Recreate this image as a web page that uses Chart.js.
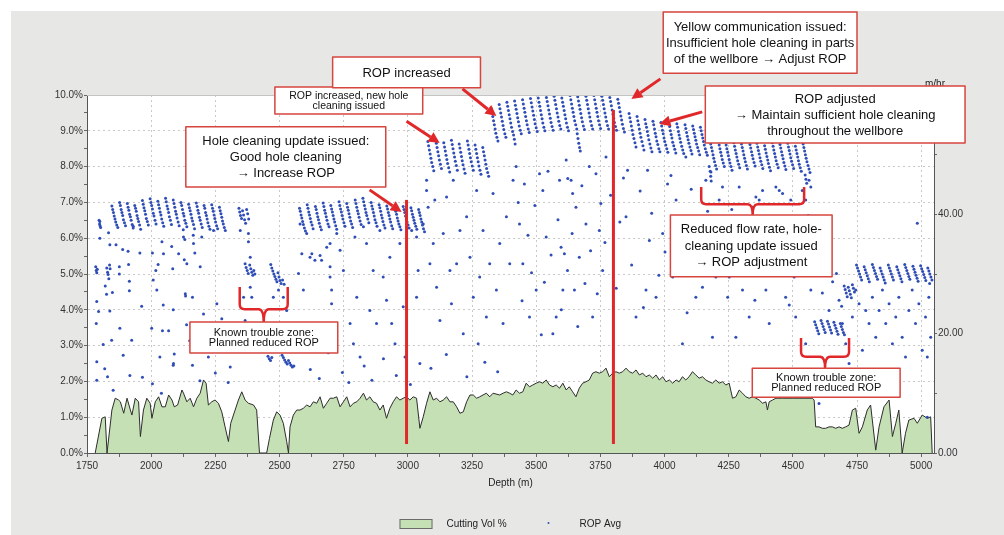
<!DOCTYPE html>
<html>
<head>
<meta charset="utf-8">
<script src="https://cdn.jsdelivr.net/npm/chart.js@4.4.1/dist/chart.umd.min.js"></script>
<style>
html,body{margin:0;padding:0;background:#fff;}
canvas{display:block;}
</style>
</head>
<body>
<canvas id="c" width="1004" height="535"></canvas>
<script>
// ---------------- DATA ----------------
const depthTicks = [2000, 2250, 2500, 2750, 3000, 3250, 3500, 3750, 4000, 4250, 4500, 4750, 5000];

// Cutting Vol % profile: [depth m, %]
const cuttingVol = [
[1782,0],[1808,0.97],[1821,1.01],[1828,0],[1847,1.2],[1860,1.53],[1873,1.48],[1880,1.43],[1893,1.11],[1906,1.53],
[1919,1.2],[1925,1.06],[1938,1.53],[1951,1.43],[1958,0.46],[1970,1.2],[1983,1.53],[1996,1.39],[2003,0.97],[2016,1.43],
[2029,1.57],[2042,1.29],[2055,1.29],[2068,1.62],[2081,1.48],[2090,1.29],[2103,1.34],[2120,1.76],[2126,1.67],[2139,1.43],
[2152,1.53],[2165,1.29],[2178,1.53],[2191,1.67],[2204,2.04],[2214,1.95],[2223,1.34],[2236,1.43],[2249,1.48],[2262,1.39],
[2275,1.15],[2288,0.73],[2301,0.32],[2310,0.83],[2327,1.2],[2340,1.48],[2353,1.71],[2366,1.48],[2379,1.39],[2399,1.34],
[2411,1.2],[2422,0],[2450,0],[2461,0.41],[2476,0.92],[2489,1.15],[2502,1.06],[2515,0.83],[2528,0.32],[2535,0],
[2541,0.73],[2554,1.06],[2567,1.2],[2580,1.2],[2593,1.25],[2606,1.34],[2619,1.29],[2632,1.43],[2645,1.39],[2658,1.57],
[2671,1.25],[2684,1.39],[2697,1.53],[2710,1.53],[2723,1.57],[2736,1.29],[2749,1.43],[2762,1.57],[2775,1.29],[2788,1.39],
[2801,1.43],[2814,1.53],[2827,1.67],[2839,1.48],[2852,1.57],[2865,1.43],[2878,1.39],[2891,1.2],[2904,1.34],[2917,0.97],
[2930,1.25],[2943,1.43],[2956,1.57],[2969,1.48],[2982,1.53],[2995,1.57],[3008,1.48],[3021,1.57],[3034,1.53],[3047,0.69],
[3060,1.01],[3073,1.39],[3086,1.71],[3099,1.48],[3112,1.53],[3125,1.43],[3138,1.48],[3151,1.57],[3164,1.43],[3177,1.43],
[3190,1.29],[3203,1.11],[3216,1.15],[3229,1.43],[3242,1.62],[3255,1.62],[3268,1.53],[3280,1.57],[3293,1.62],[3306,1.67],
[3319,1.57],[3332,1.67],[3358,1.62],[3371,1.67],[3384,1.71],[3397,1.67],[3409,1.62],[3422,1.76],[3435,1.67],[3448,1.71],
[3461,1.95],[3474,1.85],[3487,1.9],[3500,1.95],[3513,1.99],[3526,1.95],[3539,2.04],[3552,1.9],[3565,1.85],[3578,1.9],
[3591,1.81],[3604,1.95],[3617,1.76],[3629,1.85],[3642,1.71],[3655,1.57],[3668,1.81],[3681,1.95],[3694,1.99],[3707,2.04],
[3720,2.23],[3733,2.27],[3746,2.23],[3759,2.27],[3772,2.37],[3785,2.13],[3798,2.23],[3811,2.27],[3824,2.23],[3837,2.27],
[3850,2.37],[3863,2.27],[3876,2.23],[3889,2.32],[3902,2.18],[3915,2.23],[3928,2.13],[3941,2.18],[3954,2.09],[3967,2.18],
[3980,2.04],[3993,2.13],[4006,1.99],[4019,2.04],[4032,1.95],[4045,2.04],[4057,1.99],[4070,2.13],[4083,2.04],[4096,2.13],
[4109,2.27],[4122,2.18],[4135,2.09],[4148,2.13],[4161,2.04],[4174,1.99],[4187,1.95],[4200,2.04],[4213,1.95],[4226,1.99],
[4239,1.9],[4252,1.95],[4265,1.53],[4278,1.57],[4291,1.76],[4304,1.67],[4317,1.57],[4330,1.53],[4343,1.57],[4356,1.53],
[4369,1.48],[4382,1.39],[4395,1.43],[4401,1.2],[4408,1.43],[4421,1.48],[4434,1.53],[4460,1.53],[4500,1.53],[4540,1.53],
[4576,1.53],[4583,1.48],[4589,0.73],[4602,0.73],[4615,0.69],[4628,0.69],[4641,0.73],[4654,0.73],[4667,0.69],[4680,0.73],
[4693,0.69],[4706,0.73],[4719,0.78],[4732,1.2],[4745,1.25],[4758,0.55],[4771,0.73],[4790,1.2],[4803,1.34],[4823,0.08],
[4836,0.73],[4855,1.29],[4875,1.48],[4888,0.46],[4901,0.83],[4913,1.2],[4926,0],[4939,0.55],[4952,0.92],[4972,0.97],
[4985,0.83],[5004,1.06],[5024,0.97],[5037,1.01],[5043,0]
];

// ROP Avg points: [depth m, m/hr]
const ropEarly = [
[1784,31.2],[1786,30.6],[1788,30.2],[1790,30.8],[1797,39.0],[1799,38.4],[1801,38.1],[1803,37.8],[1800,38.8],
[1827,31.0],[1830,30.3],[1832,29.9],[1835,29.2],[1838,31.5],[1840,30.9]
];
const ropBand1 = [
[1847,41.4],[1850,40.8],[1853,40.3],[1856,39.7],[1859,39.2],[1862,38.7],[1866,38.2],[1870,37.8],
[1877,42.0],[1880,41.5],[1883,40.8],[1886,40.3],[1889,39.8],[1892,39.1],[1896,38.6],[1900,38.1],
[1907,41.8],[1910,41.2],[1913,40.7],[1916,40.0],[1919,39.6],[1922,39.0],[1926,38.3],[1930,37.7],
[1936,41.5],[1939,41.0],[1942,40.5],[1945,39.8],[1948,39.3],[1951,38.8],[1955,38.2],[1959,37.5],
[1966,42.3],[1969,41.7],[1972,41.1],[1975,40.6],[1978,40.0],[1981,39.3],[1985,38.8],[1989,38.2],
[1996,42.6],[1999,42.0],[2002,41.5],[2005,40.9],[2008,40.2],[2011,39.7],[2015,39.0],[2019,38.4],
[2026,42.2],[2029,41.6],[2032,41.0],[2035,40.4],[2038,39.9],[2041,39.2],[2045,38.6],[2049,38.0],
[2056,42.7],[2059,42.1],[2062,41.4],[2065,40.9],[2068,40.3],[2071,39.6],[2075,39.0],[2079,38.3],
[2086,42.4],[2089,41.8],[2092,41.2],[2095,40.5],[2098,40.0],[2101,39.4],[2105,38.7],[2109,38.1],
[2116,42.0],[2119,41.5],[2122,40.8],[2125,40.2],[2128,39.7],[2131,39.0],[2135,38.5],[2139,37.9],
[2146,41.7],[2149,41.1],[2152,40.6],[2155,40.0],[2158,39.4],[2161,38.9],[2165,38.3],[2169,37.6],
[2176,41.9],[2179,41.3],[2182,40.7],[2185,40.2],[2188,39.5],[2191,39.0],[2195,38.4],[2199,37.8],
[2206,41.5],[2209,41.0],[2212,40.3],[2215,39.8],[2218,39.2],[2221,38.6],[2225,38.0],[2229,37.5],
[2236,41.6],[2239,41.0],[2242,40.5],[2245,39.9],[2248,39.3],[2251,38.7],[2255,38.1],[2259,37.6],
[2266,41.2],[2269,40.6],[2272,40.1],[2275,39.5],[2278,38.9],[2281,38.4],[2285,37.8],[2289,37.3]
];
const ropTrouble1 = [
[2342,41.0],[2345,40.4],[2348,39.8],[2352,39.3],[2356,40.6],[2360,39.9],[2364,39.1],[2368,38.5],[2372,40.8],[2376,40.1],[2380,39.2],
[2366,31.7],[2370,31.1],[2374,30.6],[2378,30.1],[2384,31.5],[2388,30.9],[2392,30.3],[2396,29.8],[2400,30.6],[2404,30.0],
[2466,31.6],[2470,31.0],[2474,30.5],[2478,30.0],[2482,29.6],[2486,29.1],[2490,28.7],[2494,30.2],[2498,29.5],[2502,28.9],[2506,28.4],[2512,29.0],[2518,28.3],
[2455,16.2],[2460,15.8],[2465,15.5],[2470,16.0],[2510,16.4],[2515,16.0],[2520,15.6],[2525,15.2],[2530,14.9],[2535,15.5],
[2540,15.1],[2545,14.7],[2550,14.4],[2556,14.6]
];
const ropBand2 = [
[2578,41.0],[2581,40.5],[2584,39.9],[2587,39.4],[2590,38.8],[2593,38.3],[2597,37.7],[2601,37.2],
[2608,41.6],[2611,41.0],[2614,40.4],[2617,39.9],[2620,39.3],[2623,38.7],[2627,38.2],[2631,37.6],
[2640,41.3],[2643,40.8],[2646,40.2],[2649,39.6],[2652,39.1],[2655,38.5],[2659,37.9],[2663,37.4],
[2670,41.9],[2673,41.3],[2676,40.7],[2679,40.2],[2682,39.6],[2685,39.0],[2689,38.4],[2693,37.9],
[2700,41.5],[2703,40.9],[2706,40.4],[2709,39.8],[2712,39.2],[2715,38.7],[2719,38.1],[2723,37.5],
[2732,42.1],[2735,41.5],[2738,40.9],[2741,40.4],[2744,39.8],[2747,39.2],[2751,38.6],[2755,38.0],
[2762,41.8],[2765,41.2],[2768,40.7],[2771,40.1],[2774,39.5],[2777,38.9],[2781,38.4],[2785,37.8],
[2795,42.4],[2798,41.8],[2801,41.2],[2804,40.6],[2807,40.1],[2810,39.5],[2814,38.9],[2818,38.3],
[2825,42.7],[2828,42.1],[2831,41.5],[2834,40.9],[2837,40.3],[2840,39.8],[2844,39.2],[2848,38.6],
[2857,42.0],[2860,41.4],[2863,40.9],[2866,40.3],[2869,39.7],[2872,39.1],[2876,38.6],[2880,38.0],
[2888,41.6],[2891,41.1],[2894,40.5],[2897,39.9],[2900,39.4],[2903,38.8],[2907,38.2],[2911,37.7],
[2918,41.4],[2921,40.9],[2924,40.3],[2927,39.8],[2930,39.2],[2933,38.7],[2937,38.1],[2941,37.6],
[2950,41.0],[2953,40.5],[2956,40.0],[2959,39.4],[2962,38.9],[2965,38.4],[2969,37.9],[2973,37.4],
[2982,41.3],[2985,40.8],[2988,40.3],[2991,39.7],[2994,39.2],[2997,38.7],[3001,38.2],[3005,37.7],
[3012,41.1],[3015,40.6],[3018,40.0],[3021,39.5],[3024,39.0],[3027,38.5],[3031,38.0],[3035,37.5],
[3042,40.8],[3045,40.3],[3048,39.8],[3051,39.2],[3054,38.7],[3057,38.2],[3061,37.6],[3065,37.1]
];
const ropBand3 = [
[3078,52.2],[3081,51.5],[3084,50.8],[3087,50.1],[3090,49.4],[3093,48.7],[3097,48.0],[3101,47.3],
[3108,52.6],[3111,51.9],[3114,51.2],[3117,50.5],[3120,49.8],[3123,49.1],[3127,48.4],[3131,47.7],
[3140,52.0],[3143,51.3],[3146,50.6],[3149,49.9],[3152,49.2],[3155,48.5],[3159,47.8],[3163,47.1],
[3170,52.4],[3173,51.7],[3176,51.0],[3179,50.3],[3182,49.6],[3185,48.9],[3189,48.2],[3193,47.4],
[3200,51.8],[3203,51.1],[3206,50.4],[3209,49.7],[3212,49.0],[3215,48.3],[3219,47.6],[3223,46.9],
[3232,52.3],[3235,51.6],[3238,50.9],[3241,50.2],[3244,49.5],[3247,48.8],[3251,48.1],[3255,47.4],
[3262,51.6],[3265,50.9],[3268,50.2],[3271,49.5],[3274,48.8],[3277,48.1],[3281,47.4],[3285,46.7],
[3292,51.2],[3295,50.5],[3298,49.8],[3301,49.1],[3304,48.4],[3307,47.7],[3311,47.0],[3315,46.4]
];
const ropBand4 = [
[3325,57.8],[3328,57.1],[3331,56.4],[3334,55.7],[3337,55.0],[3340,54.3],[3343,53.6],[3347,52.9],[3351,52.3],
[3356,58.4],[3359,57.7],[3362,57.0],[3365,56.3],[3368,55.6],[3371,54.9],[3374,54.2],[3378,53.5],[3382,52.9],
[3386,58.8],[3389,58.1],[3392,57.4],[3395,56.7],[3398,56.0],[3401,55.3],[3404,54.6],[3408,53.9],[3412,53.3],
[3416,59.0],[3419,58.3],[3422,57.6],[3425,56.9],[3428,56.2],[3431,55.5],[3434,54.8],[3438,54.1],[3442,53.5],
[3447,59.2],[3450,58.5],[3453,57.8],[3456,57.1],[3459,56.4],[3462,55.7],[3465,55.0],[3469,54.3],[3473,53.7],
[3478,59.4],[3481,58.7],[3484,58.0],[3487,57.3],[3490,56.6],[3493,55.9],[3496,55.2],[3500,54.5],[3504,53.9],
[3508,59.5],[3511,58.8],[3514,58.1],[3517,57.4],[3520,56.7],[3523,56.0],[3526,55.3],[3530,54.6],[3534,54.0],
[3540,59.6],[3543,58.9],[3546,58.2],[3549,57.5],[3552,56.8],[3555,56.1],[3558,55.4],[3562,54.7],[3566,54.1],
[3570,59.8],[3573,59.1],[3576,58.4],[3579,57.7],[3582,57.0],[3585,56.3],[3588,55.6],[3592,54.9],[3596,54.3],
[3600,59.5],[3603,58.8],[3606,58.1],[3609,57.4],[3612,56.7],[3615,56.0],[3618,55.3],[3622,54.6],[3626,54.0],
[3632,59.9],[3635,59.2],[3638,58.5],[3641,57.8],[3644,57.1],[3647,56.4],[3650,55.7],[3654,55.0],[3658,54.3],
[3662,59.7],[3665,59.0],[3668,58.3],[3671,57.6],[3674,56.9],[3677,56.2],[3680,55.5],[3684,54.8],[3688,54.2],
[3694,59.8],[3697,59.1],[3700,58.4],[3703,57.7],[3706,57.0],[3709,56.3],[3712,55.6],[3716,54.9],[3720,54.3],
[3725,59.9],[3728,59.2],[3731,58.5],[3734,57.8],[3737,57.1],[3740,56.4],[3743,55.7],[3747,55.0],[3751,54.4],
[3756,59.8],[3759,59.1],[3762,58.4],[3765,57.7],[3768,57.0],[3771,56.3],[3774,55.6],[3778,54.9],[3782,54.3],
[3787,59.6],[3790,58.9],[3793,58.2],[3796,57.5],[3799,56.8],[3802,56.1],[3805,55.4],[3809,54.7],[3813,54.1],
[3818,59.3],[3821,58.6],[3824,57.9],[3827,57.2],[3830,56.5],[3833,55.8],[3836,55.1],[3840,54.4],[3844,53.8],
[3660,53.5],[3663,52.7],[3666,51.9],[3669,51.2],[3672,50.6],[3415,52.6],[3418,51.8]
];
const ropBand5 = [
[3862,56.9],[3865,56.2],[3868,55.5],[3871,54.8],[3874,54.1],[3877,53.4],[3881,52.7],[3885,52.0],[3889,51.3],
[3893,56.4],[3896,55.7],[3899,55.0],[3902,54.3],[3905,53.6],[3908,52.9],[3912,52.2],[3916,51.5],[3920,50.8],
[3924,55.9],[3927,55.2],[3930,54.6],[3933,53.9],[3936,53.2],[3939,52.5],[3943,51.8],[3947,51.1],[3951,50.5],
[3955,55.6],[3958,55.0],[3961,54.3],[3964,53.6],[3967,53.0],[3970,52.3],[3974,51.7],[3978,51.0],[3982,50.5],
[3986,55.4],[3989,54.8],[3992,54.1],[3995,53.5],[3998,52.8],[4001,52.2],[4005,51.6],[4009,51.0],[4013,50.4],
[4017,55.3],[4020,54.7],[4023,54.0],[4026,53.4],[4029,52.8],[4032,52.1],[4036,51.5],[4040,50.9],[4044,50.3],
[4048,55.2],[4051,54.6],[4054,53.9],[4057,53.3],[4060,52.7],[4063,52.1],[4067,51.4],[4071,50.8],[4075,50.2],
[4080,55.0],[4083,54.4],[4086,53.7],[4089,53.1],[4092,52.5],[4095,51.9],[4099,51.3],[4103,50.7],[4107,50.1],
[4110,54.8],[4113,54.2],[4116,53.6],[4119,53.0],[4122,52.4],[4125,51.8],[4129,51.2],[4133,50.6],[4137,50.0],
[4140,54.6],[4143,54.0],[4146,53.4],[4149,52.8],[4152,52.2],[4155,51.6],[4159,51.0],[4163,50.4],[4167,49.9]
];
const ropBand6 = [
[4180,51.8],[4183,51.2],[4186,50.6],[4189,50.0],[4192,49.4],[4195,48.8],[4199,48.2],[4203,47.6],
[4210,52.2],[4213,51.6],[4216,51.0],[4219,50.4],[4222,49.8],[4225,49.2],[4229,48.6],[4233,48.0],
[4240,51.6],[4243,51.0],[4246,50.4],[4249,49.8],[4252,49.2],[4255,48.6],[4259,48.0],[4263,47.4],
[4270,52.0],[4273,51.4],[4276,50.8],[4279,50.2],[4282,49.6],[4285,49.0],[4289,48.4],[4293,47.8],
[4300,51.8],[4303,51.2],[4306,50.6],[4309,50.0],[4312,49.4],[4315,48.8],[4319,48.2],[4323,47.6],
[4330,52.3],[4333,51.7],[4336,51.1],[4339,50.5],[4342,49.9],[4345,49.3],[4349,48.7],[4353,48.1],
[4360,51.9],[4363,51.3],[4366,50.7],[4369,50.1],[4372,49.5],[4375,48.9],[4379,48.3],[4383,47.7],
[4390,51.5],[4393,50.9],[4396,50.3],[4399,49.7],[4402,49.1],[4405,48.5],[4409,47.9],[4413,47.3],
[4420,52.0],[4423,51.4],[4426,50.8],[4429,50.2],[4432,49.6],[4435,49.0],[4439,48.4],[4443,47.8],
[4450,51.7],[4453,51.1],[4456,50.5],[4459,49.9],[4462,49.3],[4465,48.7],[4469,48.1],[4473,47.5],
[4480,51.9],[4483,51.3],[4486,50.7],[4489,50.1],[4492,49.5],[4495,48.9],[4499,48.3],[4503,47.7],
[4510,51.4],[4513,50.8],[4516,50.2],[4519,49.6],[4522,49.0],[4525,48.4],[4529,47.8],[4533,47.2],
[4540,51.8],[4543,51.2],[4546,50.6],[4549,50.0],[4552,49.4],[4555,48.8],[4559,48.2],[4563,47.6],[4567,47.0],
[4178,47.2],[4180,46.4],[4182,45.6],[4548,46.6],[4551,45.9],[4554,45.2]
];
const ropTrouble2 = [
[4585,22.0],[4589,21.5],[4593,21.0],[4597,20.5],[4601,20.0],
[4610,22.2],[4614,21.7],[4618,21.2],[4622,20.7],[4626,20.2],
[4635,22.1],[4639,21.6],[4643,21.1],[4647,20.6],[4651,20.1],
[4660,21.9],[4664,21.4],[4668,20.9],[4672,20.4],[4676,19.9],
[4685,21.7],[4689,21.2],[4693,20.7],[4697,20.2],[4701,19.8]
];
const ropBand7 = [
[4700,28.0],[4704,27.4],[4708,26.8],[4712,26.2],[4716,27.8],[4720,27.2],[4724,26.6],[4728,26.0],[4732,28.2],[4736,27.6],[4740,27.0],
[4748,31.5],[4752,31.0],[4756,30.5],[4760,30.0],[4764,29.5],[4768,29.0],
[4778,31.2],[4782,30.7],[4786,30.2],[4790,29.7],[4794,29.2],[4798,28.7],
[4810,31.6],[4814,31.1],[4818,30.6],[4822,30.1],[4826,29.6],[4830,29.1],
[4840,31.0],[4844,30.5],[4848,30.0],[4852,29.5],[4856,29.0],[4860,28.5],
[4872,31.5],[4876,31.0],[4880,30.5],[4884,30.0],[4888,29.5],[4892,29.0],
[4905,31.2],[4909,30.7],[4913,30.2],[4917,29.7],[4921,29.2],[4925,28.7],
[4936,31.6],[4940,31.1],[4944,30.6],[4948,30.1],[4952,29.6],[4956,29.1],
[4968,31.3],[4972,30.8],[4976,30.3],[4980,29.8],[4984,29.3],[4988,28.8],
[4998,31.4],[5002,30.9],[5006,30.4],[5010,29.9],[5014,29.4],[5018,28.9],
[5026,31.0],[5030,30.5],[5034,30.0],[5038,29.5],[5042,29.0]
];
const ropScatter = [
[1788,25.4],[1786,21.7],[1788,15.3],[1788,12.2],[1795,23.7],[1800,36.0],[1813,18.2],[1819,14.1],[1821,28.0],[1826,26.6],
[1830,12.8],[1834,36.9],[1839,34.9],[1839,23.8],[1846,18.9],[1849,26.9],[1852,10.5],[1863,34.9],[1878,20.9],[1876,31.2],
[1876,30.0],[1889,34.1],[1891,16.4],[1910,33.8],[1912,31.6],[1917,13.0],[1915,28.8],[1915,27.2],[1924,18.9],[1930,38.0],
[1956,33.5],[1963,24.6],[1966,12.7],[2002,20.9],[2008,29.0],[2005,33.5],[2005,11.6],[2018,30.6],[2027,31.6],[2034,16.1],
[2040,10.0],[2042,35.4],[2047,24.8],[2044,20.5],[2080,34.6],[2084,30.9],[2086,24.0],[2090,16.6],[2086,14.7],[2125,37.4],
[2131,35.8],[2129,32.4],[2134,26.3],[2138,21.5],[2161,14.7],[2161,26.1],[2170,33.5],[2164,36.5],
[2022,27.3],[2048,33.4],[2068,20.5],[2087,15.0],[2107,33.4],[2126,36.2],[2133,26.7],[2139,31.7],[2165,35.1],[2197,36.2],
[2191,31.2],[2204,23.3],[2210,19.2],[2223,16.1],[2243,37.3],[2256,25.0],[2275,22.5],[2308,14.4],[2327,19.2],[2347,37.3],
[2360,26.1],[2366,22.2],[2373,19.7],[2379,36.8],[2379,35.4],[2386,32.8],[2386,27.8],[2392,26.1],[2411,17.2],[2437,21.7],
[2476,26.1],[2496,27.3],[2515,26.1],[2528,23.9],[2548,20.5],[2574,30.1],[2580,38.4],[2587,33.4],[2593,27.3],[2606,36.8],
[2619,32.8],[2626,33.4],[2638,32.3],[2658,33.1],[2664,32.3],[2671,21.7],[2684,34.5],[2697,35.1],[2697,31.2],[2697,29.5],
[2703,27.3],[2703,25.0],[2710,18.3],[2723,36.8],[2736,34.0],[2749,30.6],[2775,21.7],[2788,18.3],[2794,36.2],[2801,26.1],
[2814,16.1],[2827,37.9],[2839,35.1],[2852,23.9],[2865,30.6],[2878,21.7],[2891,37.3],[2904,29.5],[2917,25.6],[2930,32.8],
[2937,21.7],[2950,18.3],[2969,35.1],[2982,24.5],[2989,16.1],[3015,37.3],[3034,36.2],[3034,26.1],[3040,30.6],[3047,15.0],
[3060,38.4],[3073,45.7],[3073,44.0],[3079,41.2],[3086,31.7],[3099,35.1],[3105,42.4],[3112,27.8],[3125,22.2],[3138,36.8],
[3151,42.9],[3164,30.6],[3170,25.0],[3177,45.7],[3190,31.7],[3203,37.3],[3216,20.0],[3229,39.6],[3242,32.8],[3255,26.1],
[3268,44.0],[3274,18.3],[3280,29.5],[3293,37.3],[3306,22.8],[3319,31.7],[3332,43.5],[3345,27.3],[3358,35.1],[3371,21.7],
[3384,39.6],[3397,31.7],[3410,45.7],
[2620,14.0],[2655,12.5],[2690,16.8],[2745,13.5],[2770,11.8],[2830,14.6],[2860,12.2],[2905,15.8],[2955,13.0],[3010,11.5],
[3090,14.2],[3150,16.5],[3230,12.8],[3300,15.2],[3350,13.6],[2300,11.8],[2250,13.4],[2190,12.1],[2150,18.8],
[3422,48.0],[3435,38.4],[3448,31.7],[3454,45.1],[3474,22.8],[3500,27.3],[3513,46.8],[3526,44.0],[3539,36.2],[3565,20.0],
[3578,22.8],[3591,45.7],[3597,34.5],[3604,27.3],[3610,33.4],[3617,49.1],[3623,46.0],[3636,45.7],[3642,43.5],[3649,27.3],
[3655,41.2],[3668,32.8],[3694,38.4],[3707,48.0],[3720,22.8],[3733,46.8],[3746,37.3],[3759,30.6],[3772,49.6],[3850,39.6],
[3856,47.4],[3889,22.8],[3928,27.3],[3934,47.4],[3941,35.6],[3967,26.1],[3993,36.8],[4012,45.1],[4032,29.5],[4045,42.4],
[4070,18.3],[4083,49.6],[4096,37.3],[4122,26.1],[4135,32.8],[4148,27.8],[4161,45.7],[4174,48.0],[4181,47.1],[4187,19.4],
[4200,29.5],[4213,42.4],[4226,44.6],[4246,26.1],[4252,29.5],[4278,19.4],[4291,44.6],[4304,27.3],[4330,22.8],[4343,41.2],
[4356,42.9],[4369,42.4],[4382,44.0],[4395,27.3],[4408,21.7],[4434,44.6],[4447,44.0],[4460,43.5],[4472,26.1],[4492,42.4],
[4505,29.5],[4511,22.8],[4537,44.0],[4550,42.4],[4563,45.7],[4570,44.6],[4570,27.3],[4563,35.1],[4550,18.3],[4602,8.3],
[4641,23.9],[4680,25.6],[4693,21.7],[4706,18.3],[4719,15.0],[4732,22.8],[4745,27.3],[4758,25.0],[4771,17.2],[4784,23.9],
[4797,21.7],[4810,26.1],[4823,19.4],[4836,23.9],[4849,27.3],[4862,21.7],[4875,25.0],[4888,18.3],[4901,22.8],[4913,26.1],
[4926,19.4],[4939,16.1],[4952,23.9],[4965,27.3],[4978,21.7],[4991,25.0],[5004,17.2],[5017,22.8],[5024,16.1],[5030,26.1],
[5037,19.4],[5033,28.4],[5024,6.0],[4985,38.5],
[3430,42.0],[3445,25.5],[3468,36.5],[3482,30.2],[3495,41.5],[3520,19.8],[3532,28.6],[3546,47.2],[3558,33.2],[3585,39.1],
[3598,24.0],[3622,30.6],[3640,36.8],[3662,21.2],[3678,44.8],[3690,28.4],[3712,33.9],[3738,26.7],[3752,41.8],[3768,35.3],
[3790,43.2],[3812,27.6],[3826,38.7],[3840,46.1],[3872,31.5],[3905,43.9],[3918,24.4],[3950,40.2],[3978,29.8],[4002,33.7],
[4025,46.5],[4058,38.9],[4088,23.5],[4104,44.2],[4142,35.9],[4168,40.5],[4222,36.4],[4262,40.8],[4318,33.1],[4352,25.6],
[4388,38.2],[4420,30.4],[4458,36.9],[4486,24.8],[4520,33.6],[4560,39.8],[4590,30.5],[4615,26.8],[4620,33.2],[4655,28.7],
[4670,30.1],[4690,24.6]
];

// ---------------- ANNOTATIONS (anchored in data units) ----------------
const markerLines = [ {depth: 2995, from: 0.25, to: 7.07}, {depth: 3801, from: 0.25, to: 9.58} ];
const noteBoxes = [
  {lines:['ROP increased, new hole','cleaning issued'], d1:2482, d2:3058, p1:10.22, p2:9.47, size:10.5, lh:10},
  {lines:['ROP increased'], d1:2707, d2:3283, p1:11.06, p2:10.20, size:13, lh:16},
  {lines:['Hole cleaning update issued:','Good hole cleaning','\u2192 Increase ROP'], d1:2135, d2:2914, p1:9.11, p2:7.43, size:13, lh:16},
  {lines:['Yellow communication issued:','Insufficient hole cleaning in parts','of the wellbore \u2192 Adjust ROP'], d1:3995, d2:4750, p1:12.32, p2:10.61, size:13, lh:16},
  {lines:['ROP adjusted','\u2192 Maintain sufficient hole cleaning','throughout the wellbore'], d1:4159, d2:5171, p1:10.25, p2:8.66, size:13, lh:16},
  {lines:['Known trouble zone:','Planned reduced ROP'], d1:2151, d2:2727, p1:3.66, p2:2.79, size:11, lh:10.5},
  {lines:['Reduced flow rate, hole-','cleaning update issued','\u2192 ROP adjustment'], d1:4023, d2:4653, p1:6.65, p2:4.92, size:13, lh:16.5},
  {lines:['Known trouble zone:','Planned reduced ROP'], d1:4342, d2:4918, p1:2.37, p2:1.56, size:11, lh:10.5}
];
const noteArrows = [
  {d1:3213, p1:10.17, d2:3345, p2:9.41},
  {d1:2995, p1:9.27,  d2:3124, p2:8.66},
  {d1:2851, p1:7.35,  d2:2976, p2:6.73},
  {d1:3984, p1:10.45, d2:3871, p2:9.89},
  {d1:4147, p1:9.53,  d2:3980, p2:9.19}
];
const noteBraces = [
  {d1:2345, d2:2532, top:4.64, tip:3.63},
  {d1:4143, d2:4544, top:7.43, tip:6.65},
  {d1:4532, d2:4719, top:3.21, tip:2.37}
];

// ---------------- CHART ----------------
const FONT = '"Liberation Sans", Arial, sans-serif';
Chart.defaults.font.family = FONT;
const RED = '#e0282a';
const BOXRED = '#d6453e';
const DOT = '#2f4db6';

const ropAll = [].concat(ropEarly, ropBand1, ropTrouble1, ropBand2, ropBand3, ropBand4, ropBand5, ropBand6, ropTrouble2, ropBand7, ropScatter);

const decorPlugin = {
  id: 'decor',
  beforeDraw(chart) {
    const {ctx, chartArea: a, width, height} = chart;
    ctx.save();
    ctx.fillStyle = '#ffffff'; ctx.fillRect(0, 0, width, height);
    ctx.fillStyle = '#e7e7e6'; ctx.fillRect(11, 11, width - 11, height - 11);
    ctx.fillStyle = '#ffffff'; ctx.fillRect(a.left, a.top, a.right - a.left, a.bottom - a.top);
    ctx.restore();
  },
  afterDraw(chart) {
    const {ctx, chartArea: a} = chart;
    const sx = chart.scales.x, sy = chart.scales.y;
    const X = d => sx.getPixelForValue(d), Y = p => sy.getPixelForValue(p);
    ctx.save();
    ctx.strokeStyle = '#c4c4c4'; ctx.lineWidth = 1;
    ctx.beginPath(); ctx.moveTo(a.left, a.top + 0.5); ctx.lineTo(a.right, a.top + 0.5); ctx.stroke();

    ctx.fillStyle = '#222';
    ctx.font = '10px ' + FONT; ctx.textAlign = 'center'; ctx.textBaseline = 'middle';
    ctx.fillText('Depth (m)', (a.left + a.right) / 2, a.bottom + 30);
    ctx.fillText('m/hr', a.right + 1, a.top - 11);

    const ly = 524, lcx = (a.left + a.right) / 2;
    ctx.fillStyle = '#c6e0b5'; ctx.strokeStyle = '#6b6b6b'; ctx.lineWidth = 1;
    ctx.fillRect(lcx - 111, ly - 5, 33, 10); ctx.strokeRect(lcx - 110.5, ly - 4.5, 32, 9);
    ctx.fillStyle = '#222'; ctx.textAlign = 'left';
    ctx.fillText('Cutting Vol %', lcx - 64, ly);
    ctx.fillStyle = DOT; ctx.beginPath(); ctx.arc(lcx + 38, ly - 1, 1, 0, Math.PI * 2); ctx.fill();
    ctx.fillStyle = '#222'; ctx.fillText('ROP Avg', lcx + 69, ly);

    ctx.strokeStyle = RED; ctx.lineWidth = 3; ctx.lineCap = 'butt';
    markerLines.forEach(m => {
      ctx.beginPath(); ctx.moveTo(X(m.depth), Y(m.from)); ctx.lineTo(X(m.depth), Y(m.to)); ctx.stroke();
    });

    ctx.lineWidth = 2.5; ctx.lineJoin = 'round';
    noteBraces.forEach(b => {
      const x1 = X(b.d1), x2 = X(b.d2), yt = Y(b.top), yb = Y(b.tip);
      const h = yb - yt, ym = yt + h * 0.62, cx = (x1 + x2) / 2, r = 5;
      ctx.beginPath();
      ctx.moveTo(x1, yt); ctx.lineTo(x1, ym - r);
      ctx.quadraticCurveTo(x1, ym, x1 + r, ym);
      ctx.lineTo(cx - r, ym); ctx.quadraticCurveTo(cx, ym, cx, yb);
      ctx.moveTo(cx, yb); ctx.quadraticCurveTo(cx, ym, cx + r, ym);
      ctx.lineTo(x2 - r, ym); ctx.quadraticCurveTo(x2, ym, x2, ym - r);
      ctx.lineTo(x2, yt);
      ctx.stroke();
    });

    noteArrows.forEach(ar => {
      const x1 = X(ar.d1), y1 = Y(ar.p1), x2 = X(ar.d2), y2 = Y(ar.p2);
      const ang = Math.atan2(y2 - y1, x2 - x1), L = 11, Wd = 5.5;
      const bx = x2 - L * Math.cos(ang), by = y2 - L * Math.sin(ang);
      ctx.strokeStyle = RED; ctx.fillStyle = RED; ctx.lineWidth = 3;
      ctx.beginPath(); ctx.moveTo(x1, y1); ctx.lineTo(bx, by); ctx.stroke();
      ctx.beginPath(); ctx.moveTo(x2, y2);
      ctx.lineTo(bx + Wd * Math.sin(ang), by - Wd * Math.cos(ang));
      ctx.lineTo(bx - Wd * Math.sin(ang), by + Wd * Math.cos(ang));
      ctx.closePath(); ctx.fill();
    });

    noteBoxes.forEach(bx => {
      const x1 = X(bx.d1), x2 = X(bx.d2), y1 = Y(bx.p1), y2 = Y(bx.p2);
      ctx.fillStyle = '#ffffff'; ctx.fillRect(x1, y1, x2 - x1, y2 - y1);
      ctx.strokeStyle = BOXRED; ctx.lineWidth = 1.5; ctx.strokeRect(x1, y1, x2 - x1, y2 - y1);
      ctx.fillStyle = '#111'; ctx.font = bx.size + 'px ' + FONT;
      ctx.textAlign = 'center'; ctx.textBaseline = 'middle';
      const cy = (y1 + y2) / 2, n = bx.lines.length;
      bx.lines.forEach((t, i) => ctx.fillText(t, (x1 + x2) / 2, cy + (i - (n - 1) / 2) * bx.lh + 0.5));
    });
    ctx.restore();
  }
};

new Chart(document.getElementById('c'), {
  data: {
    datasets: [
      { type: 'scatter', label: 'ROP Avg', yAxisID: 'y2', order: 0,
        data: ropAll.map(([d, v]) => ({x: d, y: v})),
        pointRadius: 1.5, pointBackgroundColor: DOT, pointBorderWidth: 0, pointHoverRadius: 0 },
      { type: 'line', label: 'Cutting Vol %', yAxisID: 'y', order: 1,
        data: cuttingVol.map(([d, v]) => ({x: d, y: v})),
        borderColor: '#2d2d2d', borderWidth: 1, backgroundColor: '#c6e0b5', fill: 'origin',
        pointRadius: 0, tension: 0 }
    ]
  },
  options: {
    responsive: false, animation: false, events: [],
    layout: { padding: { top: 95, left: 0, right: 0, bottom: 0 } },
    plugins: { legend: { display: false }, tooltip: { enabled: false } },
    scales: {
      x: {
        type: 'linear', position: 'bottom', min: 1750, max: 5050,
        afterFit: s => { s.height = 82; },
        ticks: { stepSize: 125, includeBounds: false, autoSkip: false, maxRotation: 0, padding: 3,
                 color: '#333', font: { size: 10 },
                 callback: v => depthTicks.concat([1750]).includes(v) ? String(v) : '' },
        grid: { color: c => (c.tick && depthTicks.includes(c.tick.value)) ? '#c9c9c9' : 'rgba(0,0,0,0)',
                tickColor: '#666', tickLength: 4, lineWidth: 1 },
        border: { display: true, color: '#555', width: 1, dash: [2, 3] }
      },
      y: {
        type: 'linear', position: 'left', min: 0, max: 10,
        afterFit: s => { s.width = 87; },
        ticks: { stepSize: 0.5, autoSkip: false, padding: 1, color: '#333', font: { size: 10 },
                 callback: v => Number.isInteger(v) ? v.toFixed(1) + '%' : '' },
        grid: { color: c => (c.tick && Number.isInteger(c.tick.value) && c.tick.value > 0) ? '#c9c9c9' : 'rgba(0,0,0,0)',
                tickColor: '#666', tickLength: 3 },
        border: { display: true, color: '#555', width: 1, dash: [2, 3] }
      },
      y2: {
        type: 'linear', position: 'right', min: 0, max: 60,
        afterFit: s => { s.width = 70; },
        ticks: { stepSize: 10, autoSkip: false, padding: 1, color: '#333', font: { size: 10 },
                 callback: v => (v % 20 === 0 && v < 60) ? v.toFixed(2) : '' },
        grid: { drawOnChartArea: false, tickColor: '#666', tickLength: 3 },
        border: { display: true, color: '#555', width: 1 }
      }
    }
  },
  plugins: [decorPlugin]
});
</script>
</body>
</html>
